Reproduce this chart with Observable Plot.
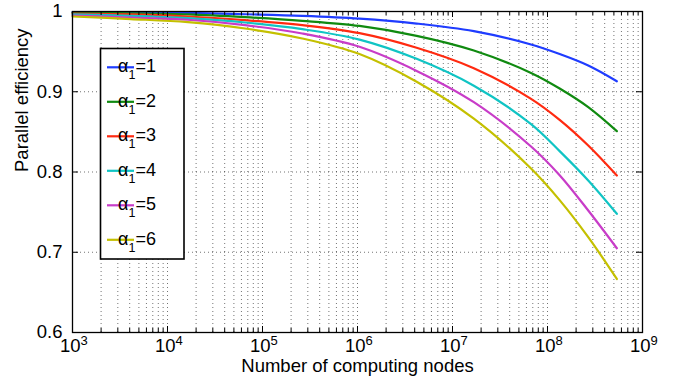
<!DOCTYPE html>
<html><head><meta charset="utf-8">
<script src="https://cdn.jsdelivr.net/npm/d3@7"></script>
<script src="https://cdn.jsdelivr.net/npm/@observablehq/plot@0.6"></script>
<style>body{margin:0;background:#fff} #chart{width:675px;height:384px}</style>
</head><body><div id="chart"></div>
<script>
// Number of computing nodes (x)
const nodes = [1000, 4096, 16384, 65536, 262144, 1048576, 4194304, 16777216, 67108864, 134217728, 268435456, 536870912];
// Parallel efficiency for each alpha_1
const eff1 = [0.9994, 0.9989, 0.9983, 0.9966, 0.9946, 0.9912, 0.9850, 0.9755, 0.9589, 0.9470, 0.9327, 0.9131];
const eff2 = [0.9986, 0.9978, 0.9963, 0.9929, 0.9884, 0.9820, 0.9697, 0.9514, 0.9234, 0.9040, 0.8808, 0.8509];
const eff3 = [0.9975, 0.9963, 0.9938, 0.9892, 0.9830, 0.9730, 0.9548, 0.9293, 0.8912, 0.8650, 0.8330, 0.7956];
const eff4 = [0.9963, 0.9946, 0.9917, 0.9863, 0.9780, 0.9650, 0.9410, 0.9075, 0.8596, 0.8260, 0.7894, 0.7479];
const eff5 = [0.9950, 0.9925, 0.9897, 0.9830, 0.9726, 0.9560, 0.9260, 0.8870, 0.8318, 0.7960, 0.7520, 0.7050];
const eff6 = [0.9938, 0.9906, 0.9867, 0.9788, 0.9664, 0.9470, 0.9125, 0.8665, 0.8044, 0.7650, 0.7188, 0.6667];
const alphaValues = ["1", "2", "3", "4", "5", "6"];
const colors = ["#1f3cff", "#108a10", "#ff2a10", "#10c4c4", "#c83cc8", "#c4c000"];
// Ticks
const xMajor = [1e3, 1e4, 1e5, 1e6, 1e7, 1e8, 1e9];
const xExponents = ["3", "4", "5", "6", "7", "8", "9"];
const xMinorDigits = [2, 3, 4, 5, 6, 7, 8, 9];
const yTicks = [0.6, 0.7, 0.8, 0.9, 1];
const yLabels = ["0.6", "0.7", "0.8", "0.9", "1"];

const series = [eff1, eff2, eff3, eff4, eff5, eff6];
const rows = [];
series.forEach((s, i) => s.forEach((v, j) => rows.push({n: nodes[j], e: v, a: alphaValues[i]})));
const xMinor = [];
xMajor.slice(0, -1).forEach(m => xMinorDigits.forEach(d => xMinor.push(d * m)));

const W = 675, H = 384, mL = 72, mR = 33, mT = 11, mB = 52;
const innerW = W - mL - mR, innerH = H - mT - mB;
const font = "Liberation Sans, Arial, Helvetica, sans-serif";
const gridStyle = {stroke: "#000", strokeOpacity: 0.55, strokeWidth: 1, strokeDasharray: "1,3"};

const plot = Plot.plot({
  width: W, height: H,
  marginLeft: mL, marginRight: mR, marginTop: mT, marginBottom: mB,
  style: {fontFamily: font, fontSize: "18.5px", color: "#000", background: "#fff"},
  x: {type: "log", domain: [1e3, 1e9], axis: null},
  y: {domain: [0.6, 1], axis: null},
  color: {domain: alphaValues, range: colors},
  marks: [
    Plot.gridX(xMinor.concat(xMajor.slice(1, -1)), gridStyle),
    Plot.gridY(yTicks.slice(1, -1), gridStyle),
    Plot.line(rows, {x: "n", y: "e", z: "a", stroke: "a", strokeWidth: 2.2, curve: "catmull-rom", strokeLinejoin: "round"}),
    Plot.tickX(xMajor, {x: d => d, insetTop: innerH - 6, stroke: "#000"}),
    Plot.tickX(xMajor, {x: d => d, insetBottom: innerH - 6, stroke: "#000"}),
    Plot.tickX(xMinor, {x: d => d, insetTop: innerH - 4, stroke: "#000"}),
    Plot.tickX(xMinor, {x: d => d, insetBottom: innerH - 4, stroke: "#000"}),
    Plot.tickY(yTicks, {y: d => d, insetRight: innerW - 6, stroke: "#000"}),
    Plot.tickY(yTicks, {y: d => d, insetLeft: innerW - 6, stroke: "#000"}),
    Plot.frame({stroke: "#000", strokeWidth: 1.3}),
    Plot.text(yTicks, {y: d => d, text: (d, i) => yLabels[i], frameAnchor: "left", textAnchor: "end", dx: -10, fontSize: 18.5, fill: "#000"}),
    Plot.text(xMajor, {x: d => d, text: () => "10", frameAnchor: "bottom", textAnchor: "end", dx: 8, dy: 19, fontSize: 18.5, fill: "#000"}),
    Plot.text(xMajor, {x: d => d, text: (d, i) => xExponents[i], frameAnchor: "bottom", textAnchor: "start", dx: 8, dy: 12.5, fontSize: 13, fill: "#000"}),
    Plot.text(["Number of computing nodes"], {frameAnchor: "bottom", dy: 39, fontSize: 18.5, fill: "#000"}),
    Plot.text(["Parallel efficiency"], {frameAnchor: "left", rotate: -90, dx: -50, fontSize: 18.5, fill: "#000"})
  ]
});
document.getElementById("chart").appendChild(plot);

// Legend box (MATLAB style)
const svg = d3.select(plot);
const leg = svg.append("g").attr("font-family", font).attr("fill", "#000");
leg.append("rect").attr("x", 100.5).attr("y", 48.5).attr("width", 83.5).attr("height", 210.5)
  .attr("fill", "#fff").attr("stroke", "#000").attr("stroke-width", 1.6);
alphaValues.forEach((a, i) => {
  const cy = 67.3 + i * 34.5;
  leg.append("line").attr("x1", 107).attr("x2", 134).attr("y1", cy).attr("y2", cy)
    .attr("stroke", colors[i]).attr("stroke-width", 2.2);
  const t = leg.append("text").attr("x", 137).attr("y", cy + 5).attr("font-size", 18);
  t.append("tspan").text("α");
  t.append("tspan").attr("dy", 7).attr("font-size", 12.5).text("1");
  t.append("tspan").attr("dy", -7).text("=" + a);
});
</script>
</body></html>
